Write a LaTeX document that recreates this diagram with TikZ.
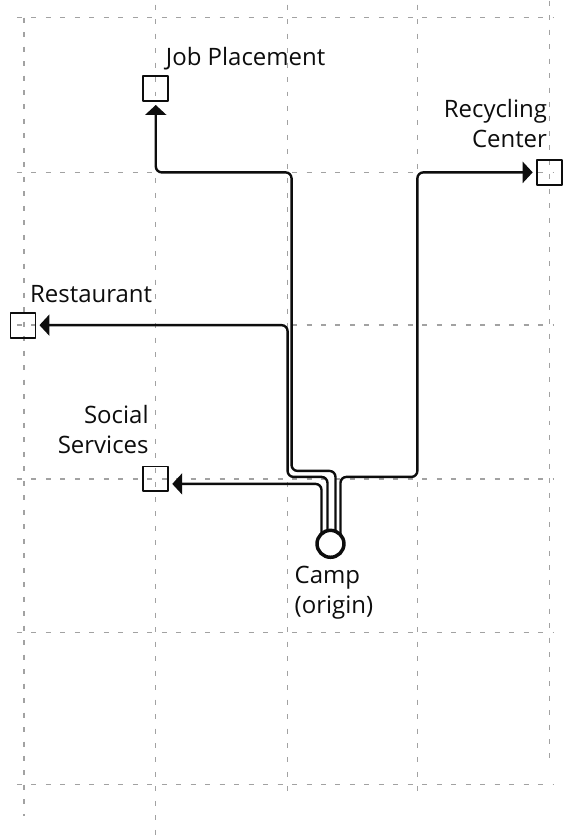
\documentclass[tikz,border=0pt]{standalone}
\usepackage{fontspec}
\setmainfont{Open Sans}
\usetikzlibrary{arrows.meta,calc,positioning}
\pgfdeclarelayer{background}
\pgfsetlayers{background,main}
\definecolor{mapInk}{HTML}{0D0D0D}
\definecolor{mapGrid}{HTML}{A2A2A2}
\definecolor{mapPaper}{HTML}{FFFFFF}

\begin{document}
\begin{tikzpicture}[x=1pt,y=-1pt,>={Triangle[length=10pt,width=21pt]},line cap=round,line join=round]
\tikzset{gridline/.style={draw=mapGrid,line width=1.3pt,line cap=butt,dash pattern=on 5pt off 9.5pt},route/.style={draw=mapInk,line width=2.4pt,rounded corners=6pt,->,shorten >=4pt},dest/.style={draw=mapInk,line width=1.8pt,minimum size=25pt,inner sep=0pt,outer sep=0pt},campdot/.style={circle,draw=mapInk,fill=mapPaper,line width=3.5pt,minimum size=27pt,inner sep=0pt},lbl/.style={text=mapInk,font=\fontsize{24}{30}\selectfont,inner sep=0pt}}
\node[campdot] (camp) at (331,544) {};
\node[dest] (jobSq) at (156,88) {}; \node[dest] (recSq) at (550,172) {};
\node[dest] (restSq) at (23,325) {}; \node[dest] (socSq) at (156,479) {};
\node[lbl,anchor=base west] (jobLbl) at (166,65) {Job Placement};
\node[lbl,anchor=north east,align=right] (recLbl) at (548,99) {Recycling\\Center};
\node[lbl,anchor=base west] (restLbl) at (30,302) {Restaurant};
\node[lbl,anchor=north east,align=right] (socLbl) at (149,405) {Social\\Services};
\node[lbl,anchor=north west,align=left] (campLbl) at (295,566) {Camp\\(origin)};
\begin{pgfonlayer}{background}
\path[fill=mapPaper] (0,0) rectangle (571,838);
\foreach \gx/\ya/\yb in {24/17/817,156/4/838,288/4/801,418/4/801,550/0/765} \draw[gridline] (\gx,\ya) -- (\gx,\yb);
\foreach \gy in {17,172,325,479,633,785} \draw[gridline] (17,\gy) -- (555,\gy);
\draw[route] ([xshift=-9pt]camp.center) -- (322,484) -- ([yshift=-5pt]socSq.east);
\draw[route] ([xshift=-3pt]camp.center) -- (328,477) -- (288,477) -- (288,325) -- (restSq.east);
\draw[route] ([xshift=5pt]camp.center) -- (336,471) -- (292,471) -- (292,172) -- (156,172) -- (jobSq.south);
\draw[route] ([xshift=10pt]camp.center) -- (341,477) -- (418,477) -- (418,172) -- (recSq.west);
\end{pgfonlayer}
\end{tikzpicture}
\end{document}
